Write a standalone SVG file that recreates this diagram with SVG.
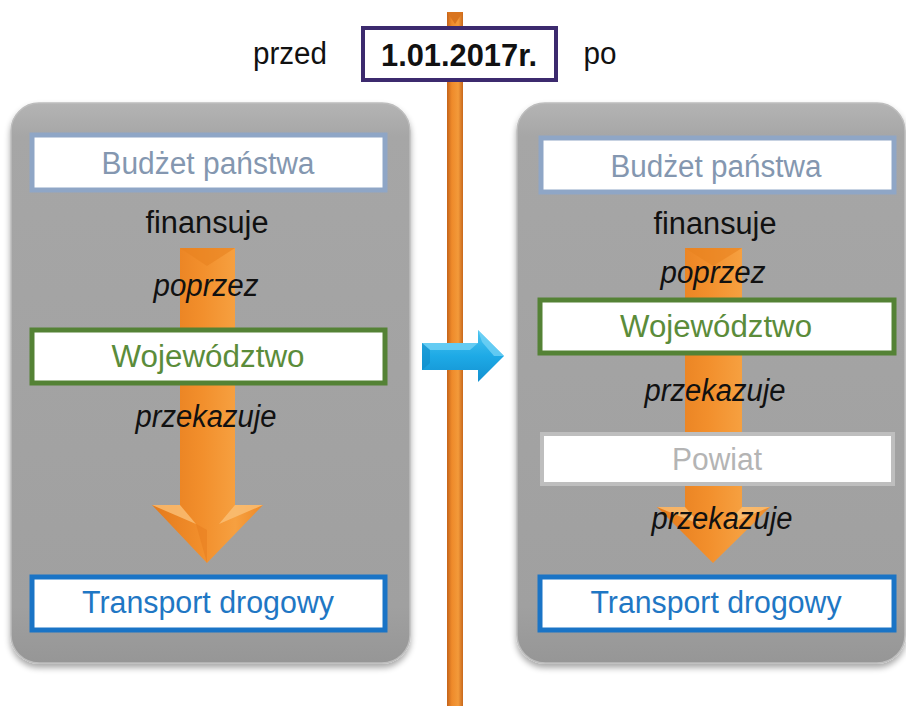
<svg xmlns="http://www.w3.org/2000/svg" width="906" height="706" viewBox="0 0 906 706">
<defs>
<linearGradient id="panelG" x1="0" y1="0" x2="0" y2="1">
<stop offset="0" stop-color="#B4B4B4"/>
<stop offset="0.06" stop-color="#A6A6A6"/>
<stop offset="0.9" stop-color="#A0A0A0"/>
<stop offset="1" stop-color="#969696"/>
</linearGradient>
<linearGradient id="orangeG" x1="0" y1="0" x2="1" y2="0">
<stop offset="0" stop-color="#E47A1C"/>
<stop offset="0.45" stop-color="#F28F2C"/>
<stop offset="0.75" stop-color="#F6A040"/>
<stop offset="1" stop-color="#EE8A28"/>
</linearGradient>
<linearGradient id="lineG" x1="0" y1="0" x2="1" y2="0">
<stop offset="0" stop-color="#C4631A"/>
<stop offset="0.3" stop-color="#EE8A2A"/>
<stop offset="0.7" stop-color="#F39A3A"/>
<stop offset="1" stop-color="#C8681C"/>
</linearGradient>
<linearGradient id="blueG" x1="0" y1="0" x2="0" y2="1">
<stop offset="0" stop-color="#4CC4F0"/>
<stop offset="0.5" stop-color="#1EAAE6"/>
<stop offset="1" stop-color="#1290D0"/>
</linearGradient>
<filter id="shadow" x="-5%" y="-5%" width="110%" height="112%">
<feGaussianBlur in="SourceAlpha" stdDeviation="3"/>
<feOffset dx="0" dy="4" result="b"/>
<feComponentTransfer><feFuncA type="linear" slope="0.35"/></feComponentTransfer>
<feMerge><feMergeNode/><feMergeNode in="SourceGraphic"/></feMerge>
</filter>
<style>
.t{font-family:"Liberation Sans",Arial,sans-serif;font-size:31px;text-anchor:middle}
.i{font-style:italic;fill:#111}
.k{fill:#111}
.box{fill:#FFFFFF;stroke-width:5}
.budzet{stroke:#8FA6C6}
.woj{stroke:#548235}
.trans{stroke:#1A74C6}
.pow{stroke:#BEBEBE;stroke-width:4}
.panel{fill:url(#panelG);stroke:#BDBDBD;stroke-width:1.5}
</style>
</defs>

<rect width="906" height="706" fill="#FFFFFF"/>

<!-- timeline -->
<g id="timeline">
<rect x="447" y="12" width="16" height="694" fill="url(#lineG)"/>
<polygon points="447,12 463,12 455,24" fill="#D9741E"/>
</g>

<!-- panels -->
<g id="panel-left">
<rect class="panel" x="11" y="103" width="399" height="560" rx="28" filter="url(#shadow)"/>
</g>
<g id="panel-right">
<rect class="panel" x="517" y="103" width="388" height="560" rx="28" filter="url(#shadow)"/>
</g>

<!-- connectors -->
<g id="connectors">
<g id="arrow-left">
<path d="M180,248 L235,248 L235,505 L263,505 L207,563 L152,505 L180,505 Z" fill="url(#orangeG)"/>
<polygon points="180,248 235,248 207,266" fill="#E8821F" opacity="0.6"/>
<polygon points="152,505 180,505 196,524" fill="#FAC078" opacity="0.8"/>
<polygon points="263,505 235,505 219,524" fill="#FAC078" opacity="0.8"/>
<polygon points="207,530 196,524 207,563" fill="#E57C1E" opacity="0.5"/>
</g>
<g id="arrow-right">
<path d="M685,248 L742,248 L742,507 L770,507 L713,563 L657,507 L685,507 Z" fill="url(#orangeG)"/>
<polygon points="685,248 742,248 713,266" fill="#E8821F" opacity="0.6"/>
<polygon points="657,507 685,507 701,525" fill="#FAC078" opacity="0.8"/>
<polygon points="770,507 742,507 726,525" fill="#FAC078" opacity="0.8"/>
</g>
<g id="arrow-blue">
<path d="M422,343 L478,343 L478,330 L504,356 L478,382 L478,370 L422,370 Z" fill="url(#blueG)"/>
<polygon points="422,343 478,343 470,350 430,350" fill="#7AD6F6" opacity="0.7"/>
<polygon points="422,343 430,350 430,363 422,370" fill="#0E86C4" opacity="0.5"/>
<polygon points="478,330 504,356 494,356 482,342" fill="#7AD6F6" opacity="0.7"/>
</g>
</g>

<!-- header -->
<g id="label-przed"><text class="t k" x="290" y="64" font-size="29" textLength="74" lengthAdjust="spacingAndGlyphs">przed</text></g>
<g id="date">
<rect x="363" y="28" width="193" height="52" fill="#FFFFFF" stroke="#3C2A6E" stroke-width="4"/>
<text class="t k" x="459" y="66" font-size="29" font-weight="bold" textLength="156" lengthAdjust="spacingAndGlyphs">1.01.2017r.</text>
</g>
<g id="label-po"><text class="t k" x="600" y="64" font-size="29" textLength="33" lengthAdjust="spacingAndGlyphs">po</text></g>

<!-- left nodes -->
<g id="left-budzet">
<rect class="box budzet" x="32" y="135" width="353" height="55"/>
<text class="t" x="208" y="174" fill="#8497B0" textLength="213" lengthAdjust="spacingAndGlyphs">Budżet państwa</text>
</g>
<g id="left-finansuje"><text class="t k" x="207" y="233" textLength="123" lengthAdjust="spacingAndGlyphs">finansuje</text></g>
<g id="left-poprzez"><text class="t i" x="206" y="296" textLength="105" lengthAdjust="spacingAndGlyphs">poprzez</text></g>
<g id="left-wojewodztwo">
<rect class="box woj" x="32" y="330" width="353" height="53"/>
<text class="t" x="208" y="367" fill="#5B8C3A" textLength="193" lengthAdjust="spacingAndGlyphs">Województwo</text>
</g>
<g id="left-przekazuje"><text class="t i" x="206" y="427" textLength="141" lengthAdjust="spacingAndGlyphs">przekazuje</text></g>
<g id="left-transport">
<rect class="box trans" x="32" y="577" width="353" height="53"/>
<text class="t" x="208" y="613" fill="#1F77C4" textLength="252" lengthAdjust="spacingAndGlyphs">Transport drogowy</text>
</g>

<!-- right nodes -->
<g id="right-budzet">
<rect class="box budzet" x="541" y="138" width="353" height="54"/>
<text class="t" x="716" y="177" fill="#8497B0" textLength="211" lengthAdjust="spacingAndGlyphs">Budżet państwa</text>
</g>
<g id="right-finansuje"><text class="t k" x="715" y="234" textLength="123" lengthAdjust="spacingAndGlyphs">finansuje</text></g>
<g id="right-poprzez"><text class="t i" x="713" y="283" textLength="105" lengthAdjust="spacingAndGlyphs">poprzez</text></g>
<g id="right-wojewodztwo">
<rect class="box woj" x="540" y="300" width="354" height="53"/>
<text class="t" x="716" y="337" fill="#5B8C3A" textLength="192" lengthAdjust="spacingAndGlyphs">Województwo</text>
</g>
<g id="right-przekazuje1"><text class="t i" x="715" y="401" textLength="141" lengthAdjust="spacingAndGlyphs">przekazuje</text></g>
<g id="right-powiat">
<rect class="box pow" x="542" y="434" width="351" height="50"/>
<text class="t" x="717" y="470" fill="#B4B4B4" textLength="90" lengthAdjust="spacingAndGlyphs">Powiat</text>
</g>
<g id="right-przekazuje2"><text class="t i" x="722" y="529" textLength="141" lengthAdjust="spacingAndGlyphs">przekazuje</text></g>
<g id="right-transport">
<rect class="box trans" x="540" y="577" width="354" height="53"/>
<text class="t" x="716" y="613" fill="#1F77C4" textLength="251" lengthAdjust="spacingAndGlyphs">Transport drogowy</text>
</g>
</svg>
